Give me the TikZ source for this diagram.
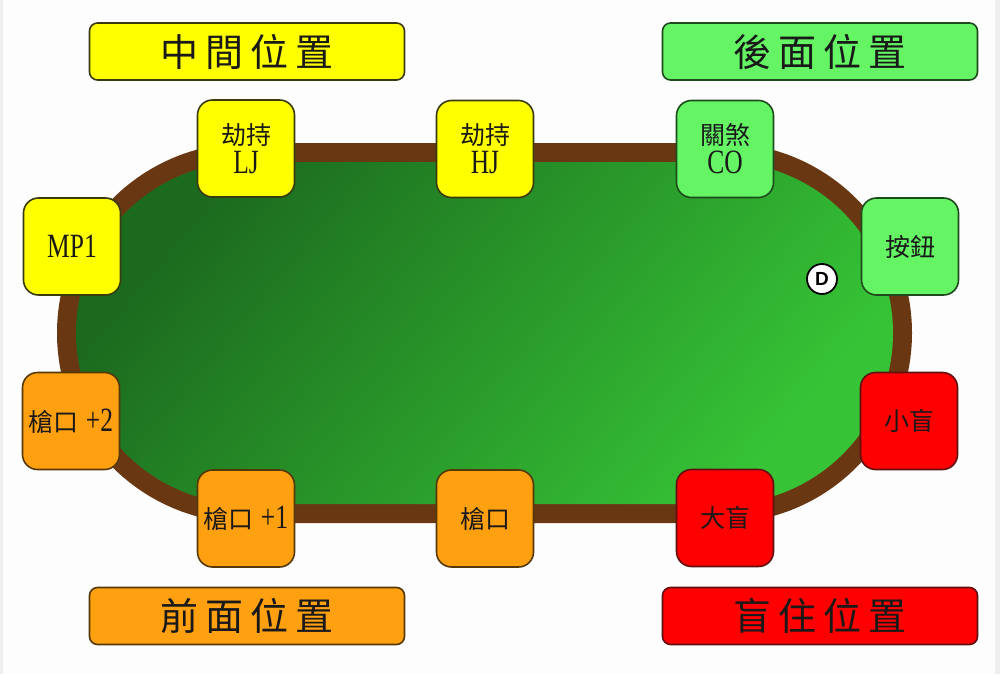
\documentclass[tikz,border=0pt]{standalone}
\usepackage{fontspec}
\newfontfamily\cjk{Noto Sans CJK TC}
\newfontfamily\lat[FakeStretch=0.75]{Liberation Serif}
\newfontfamily\dfont{Liberation Sans}
\definecolor{bgc}{HTML}{FCFDFC}
\definecolor{stripc}{HTML}{EEEEEE}
\definecolor{rimc}{HTML}{693812}
\definecolor{feltdark}{HTML}{1C6A1E}
\definecolor{feltlight}{HTML}{36C436}
\definecolor{yel}{HTML}{FFFF00}
\definecolor{yelb}{HTML}{3A3A12}
\definecolor{grn}{HTML}{64F464}
\definecolor{grnb}{HTML}{1E4A1E}
\definecolor{org}{HTML}{FFA010}
\definecolor{orgb}{HTML}{553808}
\definecolor{rd}{HTML}{FF0000}
\definecolor{rdb}{HTML}{601010}
\newcommand{\lt}[1]{{\lat\fontsize{34}{34}\selectfont #1}}
\newcommand{\gapc}{\hspace{7pt}}
\begin{document}
\begin{tikzpicture}[x=1pt,y=-1pt,
  seat/.style={draw, rounded corners=15pt, minimum width=97pt, minimum height=97pt,
    line width=1.6pt, inner sep=0pt, align=center, text=black!90,
    font=\cjk\fontsize{25}{33}\selectfont},
  banner/.style={draw, rounded corners=8pt, minimum width=315pt, minimum height=57pt,
    line width=1.6pt, inner sep=0pt, text=black!90,
    font=\cjk\fontsize{38}{38}\selectfont},
  ylw/.style={fill=yel, draw=yelb},
  gr/.style={fill=grn, draw=grnb},
  og/.style={fill=org, draw=orgb},
  re/.style={fill=rd, draw=rdb}]
\useasboundingbox (0,0) rectangle (1000,674);
\fill[bgc] (0,0) rectangle (1000,674);
\fill[stripc] (0,0) rectangle (3,674);
\fill[stripc] (995,0) rectangle (1000,674);
% table
\fill[rimc, rounded corners=190pt] (57,143) rectangle (912,523);
\shade[rounded corners=171pt, top color=feltdark, bottom color=feltlight, shading angle=50]
  (76,162) rectangle (893,504);
% banners
\node[banner, ylw] (mid) at (247,51.5) {中\gapc 間\gapc 位\gapc 置};
\node[banner, gr] (late) at (820,51.5) {後\gapc 面\gapc 位\gapc 置};
\node[banner, og] (early) at (247,616) {前\gapc 面\gapc 位\gapc 置};
\node[banner, re] (blinds) at (820,616) {盲\gapc 住\gapc 位\gapc 置};
% seats
\node[seat, ylw] (lj) at (246,148.5) {劫持\\[-4pt]\lt{LJ}};
\node[seat, ylw] (hj) at (485,149) {劫持\\[-4pt]\lt{HJ}};
\node[seat, gr] (co) at (725,149) {關煞\\[-4pt]\lt{CO}};
\node[seat, gr] (btn) at (910,246.5) {按鈕};
\node[seat, ylw] (mp1) at (72,246.5) {\lt{MP1}};
\node[seat, og] (utg2) at (71,421) {槍口\hspace{7pt}\lt{+2}};
\node[seat, og] (utg1) at (246,518.5) {槍口\hspace{7pt}\lt{+1}};
\node[seat, og] (utg) at (485,518.5) {槍口};
\node[seat, re] (bb) at (725,518) {大盲};
\node[seat, re] (sb) at (909,421) {小盲};
% dealer button
\node[circle, draw=black, fill=white, line width=1.8pt, minimum size=30pt, inner sep=0pt,
  font=\dfont\bfseries\fontsize{19}{19}\selectfont] (dealer) at (822,279) {D};
\end{tikzpicture}
\end{document}
